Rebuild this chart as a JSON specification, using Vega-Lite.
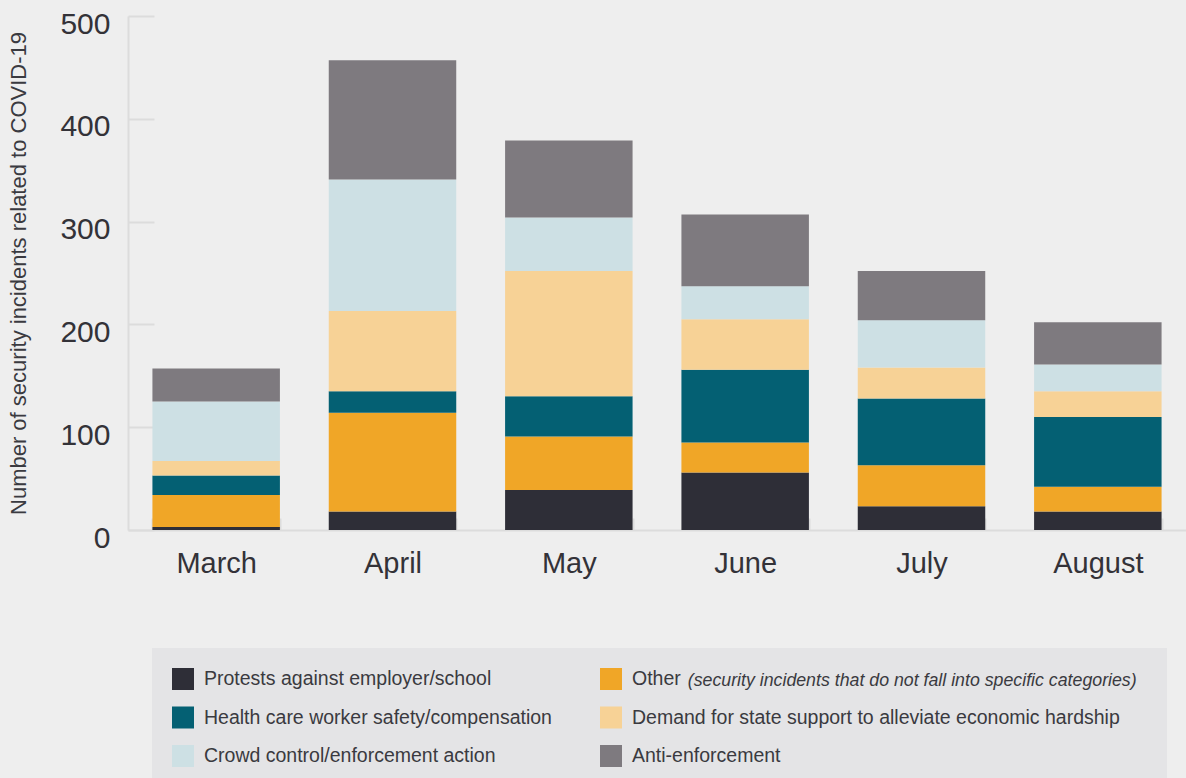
{
  "$schema": "https://vega.github.io/schema/vega-lite/v6.json",
  "width": 1058,
  "height": 514,
  "autosize": {"type": "none"},
  "padding": {"left": 128, "top": 16, "right": 0, "bottom": 248},
  "background": "#eeeeee",
  "config": {
    "view": {"stroke": null},
    "font": "Liberation Sans"
  },
  "layer": [
    {
      "data": {
        "values": [
          {"month": "March", "category": "Protests against employer/school", "value": 3},
          {"month": "March", "category": "Other", "value": 31},
          {"month": "March", "category": "Health care worker safety/compensation", "value": 19},
          {"month": "March", "category": "Demand for state support to alleviate economic hardship", "value": 14},
          {"month": "March", "category": "Crowd control/enforcement action", "value": 58},
          {"month": "March", "category": "Anti-enforcement", "value": 32},
          {"month": "April", "category": "Protests against employer/school", "value": 18},
          {"month": "April", "category": "Other", "value": 96},
          {"month": "April", "category": "Health care worker safety/compensation", "value": 21},
          {"month": "April", "category": "Demand for state support to alleviate economic hardship", "value": 78},
          {"month": "April", "category": "Crowd control/enforcement action", "value": 128},
          {"month": "April", "category": "Anti-enforcement", "value": 116},
          {"month": "May", "category": "Protests against employer/school", "value": 39},
          {"month": "May", "category": "Other", "value": 52},
          {"month": "May", "category": "Health care worker safety/compensation", "value": 39},
          {"month": "May", "category": "Demand for state support to alleviate economic hardship", "value": 122},
          {"month": "May", "category": "Crowd control/enforcement action", "value": 52},
          {"month": "May", "category": "Anti-enforcement", "value": 75},
          {"month": "June", "category": "Protests against employer/school", "value": 56},
          {"month": "June", "category": "Other", "value": 29},
          {"month": "June", "category": "Health care worker safety/compensation", "value": 71},
          {"month": "June", "category": "Demand for state support to alleviate economic hardship", "value": 49},
          {"month": "June", "category": "Crowd control/enforcement action", "value": 32},
          {"month": "June", "category": "Anti-enforcement", "value": 70},
          {"month": "July", "category": "Protests against employer/school", "value": 23},
          {"month": "July", "category": "Other", "value": 40},
          {"month": "July", "category": "Health care worker safety/compensation", "value": 65},
          {"month": "July", "category": "Demand for state support to alleviate economic hardship", "value": 30},
          {"month": "July", "category": "Crowd control/enforcement action", "value": 46},
          {"month": "July", "category": "Anti-enforcement", "value": 48},
          {"month": "August", "category": "Protests against employer/school", "value": 18},
          {"month": "August", "category": "Other", "value": 24},
          {"month": "August", "category": "Health care worker safety/compensation", "value": 68},
          {"month": "August", "category": "Demand for state support to alleviate economic hardship", "value": 25},
          {"month": "August", "category": "Crowd control/enforcement action", "value": 26},
          {"month": "August", "category": "Anti-enforcement", "value": 41}
        ]
      },
      "transform": [
        {"calculate": "indexof(['Protests against employer/school', 'Other', 'Health care worker safety/compensation', 'Demand for state support to alleviate economic hardship', 'Crowd control/enforcement action', 'Anti-enforcement'], datum.category)", "as": "stackRank"}
      ],
      "mark": {"type": "bar"},
      "encoding": {
        "x": {
          "field": "month",
          "type": "nominal",
          "sort": ["March", "April", "May", "June", "July", "August"],
          "scale": {"paddingInner": 0.277, "paddingOuter": 0.1385},
          "axis": {
            "title": null,
            "labelAngle": 0,
            "labelFontSize": 29,
            "labelColor": "#333238",
            "labelPadding": 45.5,
            "labelBaseline": "middle",
            "domainColor": "#dcdcdc",
            "domainWidth": 2,
            "tickBand": "extent",
            "tickSize": -12,
            "tickWidth": 2,
            "tickColor": "#dcdcdc"
          }
        },
        "y": {
          "field": "value",
          "type": "quantitative",
          "stack": "zero",
          "scale": {"domain": [0, 500], "nice": false},
          "axis": {
            "values": [0, 100, 200, 300, 400, 500],
            "grid": false,
            "title": "Number of security incidents related to COVID-19",
            "titleFontSize": 22,
            "titleFontWeight": "normal",
            "titleColor": "#3a3a40",
            "titleAngle": -90,
            "titleX": -110,
            "titleY": 257,
            "titleAlign": "center",
            "titleBaseline": "middle",
            "labelFontSize": 30,
            "labelColor": "#333238",
            "labelPadding": 44,
            "labelOffset": 8,
            "domainColor": "#dcdcdc",
            "domainWidth": 2,
            "tickSize": -26,
            "tickWidth": 2,
            "tickColor": "#dcdcdc"
          }
        },
        "order": {"field": "stackRank", "type": "quantitative", "sort": "ascending"},
        "color": {
          "field": "category",
          "type": "nominal",
          "scale": {
            "domain": [
              "Protests against employer/school",
              "Health care worker safety/compensation",
              "Crowd control/enforcement action",
              "Other",
              "Demand for state support to alleviate economic hardship",
              "Anti-enforcement"
            ],
            "range": ["#2e2e37", "#046073", "#cde0e4", "#f0a627", "#f7d296", "#7e7a7f"]
          },
          "legend": {
            "orient": "none",
            "legendX": 24,
            "legendY": 632,
            "title": null,
            "columns": 2,
            "fillColor": "#e4e4e6",
            "padding": 20,
            "symbolType": "square",
            "symbolSize": 484,
            "symbolStrokeWidth": 0,
            "symbolOpacity": 1,
            "labelOffset": 10,
            "labelFontSize": 19.5,
            "labelColor": "#3a3a40",
            "labelLimit": 1000,
            "rowPadding": 16.5,
            "columnPadding": 48,
            "labelExpr": "datum.label == 'Other' ? 'Other\u00a0\u00a0\u00a0\u00a0\u00a0\u00a0\u00a0\u00a0\u00a0\u00a0\u00a0\u00a0\u00a0\u00a0\u00a0\u00a0\u00a0\u00a0\u00a0\u00a0\u00a0\u00a0\u00a0\u00a0\u00a0\u00a0\u00a0\u00a0\u00a0\u00a0\u00a0\u00a0\u00a0\u00a0\u00a0\u00a0\u00a0\u00a0\u00a0\u00a0\u00a0\u00a0\u00a0\u00a0\u00a0\u00a0\u00a0\u00a0\u00a0\u00a0\u00a0\u00a0\u00a0\u00a0\u00a0\u00a0\u00a0\u00a0\u00a0\u00a0\u00a0\u00a0\u00a0\u00a0\u00a0\u00a0\u00a0\u00a0\u00a0\u00a0\u00a0\u00a0\u00a0\u00a0\u00a0\u00a0\u00a0\u00a0\u00a0\u00a0\u00a0\u00a0\u00a0\u00a0\u00a0\u00a0\u200b' : datum.label"
          }
        }
      }
    },
    {
      "data": {"values": [{"note": "(security incidents that do not fall into specific categories)"}]},
      "mark": {"type": "point", "opacity": 0},
      "encoding": {
        "shape": {
          "field": "note",
          "type": "nominal",
          "legend": {
            "orient": "none",
            "legendX": 542,
            "legendY": 656,
            "title": null,
            "padding": 0,
            "symbolSize": 1,
            "symbolOpacity": 0,
            "symbolStrokeWidth": 0,
            "labelOffset": 0,
            "labelFontSize": 17.75,
            "labelFontStyle": "italic",
            "labelColor": "#3a3a40",
            "labelLimit": 1000
          }
        }
      }
    }
  ]
}
